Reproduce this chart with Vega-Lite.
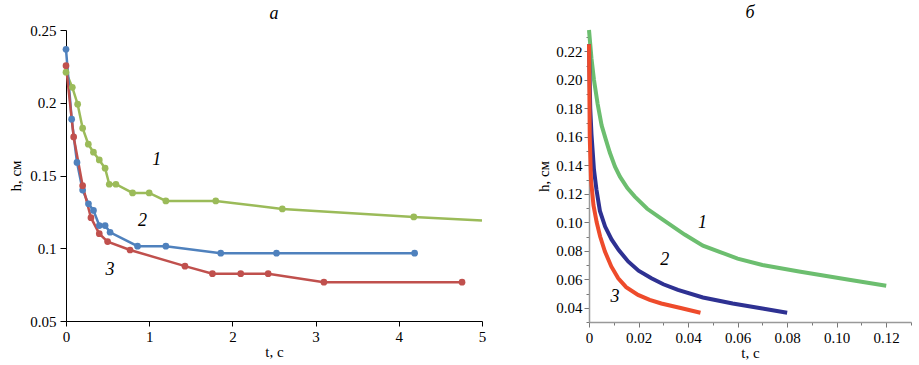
{
  "$schema": "https://vega.github.io/schema/vega-lite/v6.json",
  "background": "white",
  "padding": {"left": 8, "top": 4, "right": 5, "bottom": 0},
  "spacing": 107,
  "bounds": "flush",
  "config": {
    "view": {"stroke": null},
    "font": "Liberation Serif",
    "axis": {
      "labelFont": "Liberation Serif",
      "labelFontSize": 15,
      "labelColor": "black",
      "titleFont": "Liberation Serif",
      "titleFontSize": 15,
      "titleFontWeight": "normal",
      "titleColor": "black",
      "grid": false,
      "labelOverlap": false,
      "labelFlush": false
    },
    "title": {"font": "Liberation Serif", "fontStyle": "italic", "fontWeight": "normal", "fontSize": 18, "color": "black", "anchor": "middle"}
  },
  "datasets": {
    "a": [
      {"curve": "1", "t": 0, "h": 0.221, "kind": "measured"},
      {"curve": "1", "t": 0.076, "h": 0.2106, "kind": "measured"},
      {"curve": "1", "t": 0.14, "h": 0.199, "kind": "measured"},
      {"curve": "1", "t": 0.2, "h": 0.1825, "kind": "measured"},
      {"curve": "1", "t": 0.268, "h": 0.1715, "kind": "measured"},
      {"curve": "1", "t": 0.33, "h": 0.166, "kind": "measured"},
      {"curve": "1", "t": 0.4, "h": 0.1607, "kind": "measured"},
      {"curve": "1", "t": 0.47, "h": 0.155, "kind": "measured"},
      {"curve": "1", "t": 0.52, "h": 0.144, "kind": "measured"},
      {"curve": "1", "t": 0.6, "h": 0.144, "kind": "measured"},
      {"curve": "1", "t": 0.8, "h": 0.138, "kind": "measured"},
      {"curve": "1", "t": 1.0, "h": 0.138, "kind": "measured"},
      {"curve": "1", "t": 1.2, "h": 0.1325, "kind": "measured"},
      {"curve": "1", "t": 1.8, "h": 0.1325, "kind": "measured"},
      {"curve": "1", "t": 2.6, "h": 0.127, "kind": "measured"},
      {"curve": "1", "t": 4.18, "h": 0.1215, "kind": "measured"},
      {"curve": "1", "t": 5.0, "h": 0.119, "kind": "line"},
      {"curve": "2", "t": 0, "h": 0.2367, "kind": "measured"},
      {"curve": "2", "t": 0.068, "h": 0.1887, "kind": "measured"},
      {"curve": "2", "t": 0.132, "h": 0.159, "kind": "measured"},
      {"curve": "2", "t": 0.2, "h": 0.14, "kind": "measured"},
      {"curve": "2", "t": 0.27, "h": 0.1305, "kind": "measured"},
      {"curve": "2", "t": 0.33, "h": 0.126, "kind": "measured"},
      {"curve": "2", "t": 0.4, "h": 0.1156, "kind": "measured"},
      {"curve": "2", "t": 0.47, "h": 0.1156, "kind": "measured"},
      {"curve": "2", "t": 0.53, "h": 0.111, "kind": "measured"},
      {"curve": "2", "t": 0.86, "h": 0.1014, "kind": "measured"},
      {"curve": "2", "t": 1.2, "h": 0.1014, "kind": "measured"},
      {"curve": "2", "t": 1.86, "h": 0.0966, "kind": "measured"},
      {"curve": "2", "t": 2.53, "h": 0.0966, "kind": "measured"},
      {"curve": "2", "t": 4.19, "h": 0.0966, "kind": "measured"},
      {"curve": "3", "t": 0, "h": 0.2255, "kind": "measured"},
      {"curve": "3", "t": 0.092, "h": 0.1765, "kind": "measured"},
      {"curve": "3", "t": 0.2, "h": 0.143, "kind": "measured"},
      {"curve": "3", "t": 0.3, "h": 0.121, "kind": "measured"},
      {"curve": "3", "t": 0.4, "h": 0.11, "kind": "measured"},
      {"curve": "3", "t": 0.5, "h": 0.1046, "kind": "measured"},
      {"curve": "3", "t": 0.77, "h": 0.0988, "kind": "measured"},
      {"curve": "3", "t": 1.43, "h": 0.0877, "kind": "measured"},
      {"curve": "3", "t": 1.76, "h": 0.0825, "kind": "measured"},
      {"curve": "3", "t": 2.1, "h": 0.0825, "kind": "measured"},
      {"curve": "3", "t": 2.43, "h": 0.0825, "kind": "measured"},
      {"curve": "3", "t": 3.1, "h": 0.0767, "kind": "measured"},
      {"curve": "3", "t": 4.76, "h": 0.0767, "kind": "measured"}
    ],
    "b": [
      {"curve": "1", "t": 0, "h": 0.235},
      {"curve": "1", "t": 0.001, "h": 0.215},
      {"curve": "1", "t": 0.002, "h": 0.2},
      {"curve": "1", "t": 0.0035, "h": 0.183},
      {"curve": "1", "t": 0.0051, "h": 0.168},
      {"curve": "1", "t": 0.0068, "h": 0.158},
      {"curve": "1", "t": 0.0084, "h": 0.149},
      {"curve": "1", "t": 0.0105, "h": 0.139},
      {"curve": "1", "t": 0.0125, "h": 0.132},
      {"curve": "1", "t": 0.0155, "h": 0.124},
      {"curve": "1", "t": 0.0185, "h": 0.118},
      {"curve": "1", "t": 0.0235, "h": 0.1095},
      {"curve": "1", "t": 0.0292, "h": 0.1025},
      {"curve": "1", "t": 0.0386, "h": 0.0914},
      {"curve": "1", "t": 0.046, "h": 0.0836},
      {"curve": "1", "t": 0.0527, "h": 0.0793},
      {"curve": "1", "t": 0.06, "h": 0.0745},
      {"curve": "1", "t": 0.07, "h": 0.07},
      {"curve": "1", "t": 0.0848, "h": 0.0655},
      {"curve": "1", "t": 0.105, "h": 0.0596},
      {"curve": "1", "t": 0.12, "h": 0.0555},
      {"curve": "2", "t": 0, "h": 0.225},
      {"curve": "2", "t": 0.0005, "h": 0.18},
      {"curve": "2", "t": 0.001, "h": 0.162},
      {"curve": "2", "t": 0.002, "h": 0.137},
      {"curve": "2", "t": 0.003, "h": 0.123},
      {"curve": "2", "t": 0.0044, "h": 0.108},
      {"curve": "2", "t": 0.0065, "h": 0.097},
      {"curve": "2", "t": 0.0091, "h": 0.088},
      {"curve": "2", "t": 0.012, "h": 0.0805},
      {"curve": "2", "t": 0.0158, "h": 0.0725},
      {"curve": "2", "t": 0.02, "h": 0.066},
      {"curve": "2", "t": 0.0252, "h": 0.0607},
      {"curve": "2", "t": 0.03, "h": 0.0565},
      {"curve": "2", "t": 0.0359, "h": 0.0525},
      {"curve": "2", "t": 0.046, "h": 0.0472},
      {"curve": "2", "t": 0.058, "h": 0.043},
      {"curve": "2", "t": 0.07, "h": 0.0395},
      {"curve": "2", "t": 0.08, "h": 0.0365},
      {"curve": "3", "t": 0, "h": 0.225},
      {"curve": "3", "t": 0.0003, "h": 0.16},
      {"curve": "3", "t": 0.0008, "h": 0.13},
      {"curve": "3", "t": 0.0018, "h": 0.112},
      {"curve": "3", "t": 0.0031, "h": 0.1},
      {"curve": "3", "t": 0.0045, "h": 0.09},
      {"curve": "3", "t": 0.0064, "h": 0.0796},
      {"curve": "3", "t": 0.009, "h": 0.069},
      {"curve": "3", "t": 0.0118, "h": 0.0607},
      {"curve": "3", "t": 0.015, "h": 0.0545},
      {"curve": "3", "t": 0.0198, "h": 0.049},
      {"curve": "3", "t": 0.0245, "h": 0.0455},
      {"curve": "3", "t": 0.0292, "h": 0.043},
      {"curve": "3", "t": 0.037, "h": 0.0398},
      {"curve": "3", "t": 0.045, "h": 0.0365}
    ],
    "labels_a": [
      {"t": 1.09, "h": 0.1607, "label": "1"},
      {"t": 0.92, "h": 0.119, "label": "2"},
      {"t": 0.53, "h": 0.085, "label": "3"}
    ],
    "labels_b": [
      {"t": 0.0458, "h": 0.0994, "label": "1"},
      {"t": 0.0306, "h": 0.0732, "label": "2"},
      {"t": 0.0105, "h": 0.0478, "label": "3"}
    ]
  },
  "resolve": {"scale": {"color": "independent", "x": "independent", "y": "independent"}},
  "hconcat": [
    {
      "width": 416,
      "height": 291,
      "title": {"text": "а", "offset": 0},
      "layer": [
        {
          "data": {"name": "a"},
          "mark": {"type": "line", "strokeWidth": 2.5},
          "encoding": {
            "x": {"field": "t", "type": "quantitative", "scale": {"domain": [0, 5], "nice": false, "zero": false},
                  "axis": {"title": "t, с", "values": [0, 1, 2, 3, 4, 5], "tickCount": 50, "format": "d", "domainColor": "black", "tickColor": "black", "tickSize": 5, "labelPadding": 3, "titlePadding": 0}},
            "y": {"field": "h", "type": "quantitative", "scale": {"domain": [0.05, 0.25], "nice": false, "zero": false},
                  "axis": {"title": "h, см", "values": [0.05, 0.1, 0.15, 0.2, 0.25], "tickCount": 50, "format": "~g", "domainColor": "black", "tickColor": "black", "tickSize": 6, "labelPadding": 4, "titlePadding": 6}},
            "color": {"field": "curve", "type": "nominal", "scale": {"domain": ["1", "2", "3"], "range": ["#9BBB59", "#4F81BD", "#C0504D"]}, "legend": null},
            "order": {"field": "t", "type": "quantitative"}
          }
        },
        {
          "data": {"name": "a"},
          "transform": [{"filter": "datum.kind == 'measured'"}],
          "mark": {"type": "point", "filled": true, "size": 45, "opacity": 1},
          "encoding": {
            "x": {"field": "t", "type": "quantitative"},
            "y": {"field": "h", "type": "quantitative"},
            "color": {"field": "curve", "type": "nominal", "legend": null}
          }
        },
        {
          "data": {"name": "labels_a"},
          "mark": {"type": "text", "font": "Liberation Serif", "fontStyle": "italic", "fontSize": 18, "color": "black"},
          "encoding": {
            "x": {"field": "t", "type": "quantitative"},
            "y": {"field": "h", "type": "quantitative"},
            "text": {"field": "label"}
          }
        }
      ]
    },
    {
      "width": 322,
      "height": 292,
      "title": {"text": "б", "offset": 0},
      "layer": [
        {
          "data": {"name": "b"},
          "mark": {"type": "line", "strokeWidth": 4},
          "encoding": {
            "x": {"field": "t", "type": "quantitative", "scale": {"domain": [0, 0.13], "nice": false, "zero": false},
                  "axis": {"title": "t, с", "values": [0, 0.01, 0.02, 0.03, 0.04, 0.05, 0.06, 0.07, 0.08, 0.09, 0.1, 0.11, 0.12, 0.13],
                           "tickCount": 50,
                           "labelExpr": "datum.value == 0 ? '0' : (round(datum.value*100) % 2 == 0 ? format(datum.value, '.2f') : '')",
                           "domainColor": "#999999", "domainWidth": 1.5, "tickColor": "#777777",
                           "tickSize": {"condition": {"test": "round(datum.value*100) % 2 == 0", "value": 5}, "value": 3},
                           "labelPadding": 3, "titlePadding": 0}},
            "y": {"field": "h", "type": "quantitative", "scale": {"domain": [0.03, 0.235], "nice": false, "zero": false},
                  "axis": {"title": "h, см", "values": [0.03, 0.04, 0.05, 0.06, 0.07, 0.08, 0.09, 0.1, 0.11, 0.12, 0.13, 0.14, 0.15, 0.16, 0.17, 0.18, 0.19, 0.2, 0.21, 0.22, 0.23],
                           "tickCount": 50,
                           "labelExpr": "round(datum.value*100) % 2 == 0 ? format(datum.value, '.2f') : ''",
                           "domainColor": "#999999", "domainWidth": 1.5, "tickColor": "#777777",
                           "tickSize": {"condition": {"test": "round(datum.value*100) % 2 == 0", "value": 5}, "value": 3},
                           "labelPadding": 2, "titlePadding": 4}},
            "color": {"field": "curve", "type": "nominal", "scale": {"domain": ["1", "2", "3"], "range": ["#6CBE6F", "#2E3192", "#EE4B2B"]}, "legend": null},
            "order": {"field": "t", "type": "quantitative"}
          }
        },
        {
          "data": {"name": "labels_b"},
          "mark": {"type": "text", "font": "Liberation Serif", "fontStyle": "italic", "fontSize": 18, "color": "black"},
          "encoding": {
            "x": {"field": "t", "type": "quantitative"},
            "y": {"field": "h", "type": "quantitative"},
            "text": {"field": "label"}
          }
        }
      ]
    }
  ]
}
